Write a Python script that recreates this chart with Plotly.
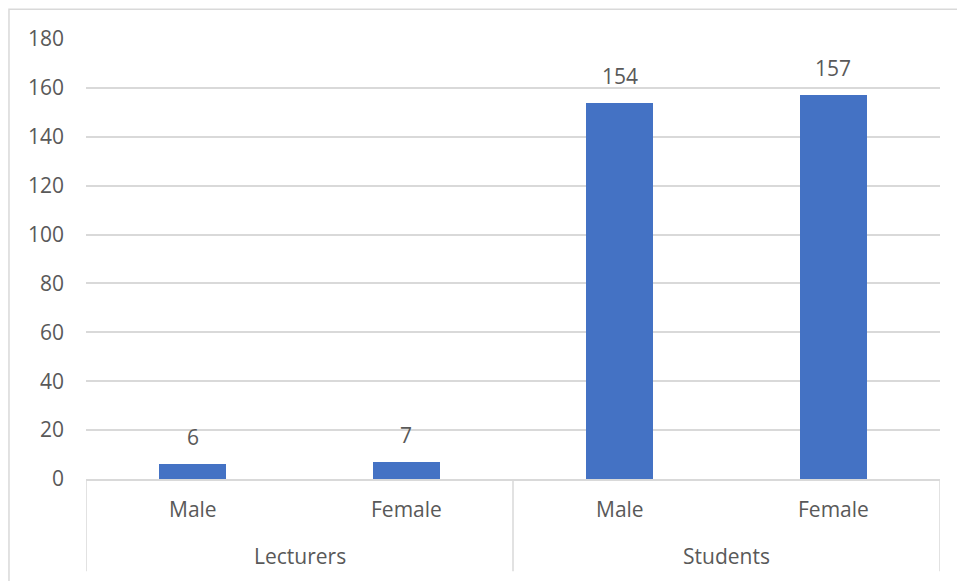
import plotly.graph_objects as go

groups = ["Lecturers", "Lecturers", "Students", "Students"]
genders = ["Male", "Female", "Male", "Female"]
values = [6, 7, 154, 157]
group_names = ["Lecturers", "Students"]
y_ticks = [0, 20, 40, 60, 80, 100, 120, 140, 160, 180]

BAR = "#4472C4"
TXT = "#595959"
GRID = "#D9D9D9"
FONT = "Open Sans"
FS = 21

xpos = [i + 0.5 for i in range(len(values))]

fig = go.Figure()
fig.add_trace(go.Bar(x=xpos, y=values, width=0.314, marker=dict(color=BAR, line=dict(width=0)),
                     hoverinfo="skip", showlegend=False))

annotations = []
# data labels
for x, v in zip(xpos, values):
    annotations.append(dict(x=x, y=v, xref="x", yref="y", text=str(v), showarrow=False,
                            yanchor="bottom", yshift=11, font=dict(family=FONT, size=FS, color=TXT)))
# inner category labels
for x, g in zip(xpos, genders):
    annotations.append(dict(x=x, y=0, xref="x", yref="paper", text=g, showarrow=False,
                            yanchor="middle", yshift=-30, font=dict(family=FONT, size=FS, color=TXT)))
# outer group labels
for gi, gname in enumerate(group_names):
    xs = [x for x, g in zip(xpos, groups) if g == gname]
    annotations.append(dict(x=sum(xs) / len(xs), y=0, xref="x", yref="paper", text=gname, showarrow=False,
                            yanchor="middle", yshift=-77, font=dict(family=FONT, size=FS, color=TXT)))

shapes = []
# dividers
for xd in [0, 2, 4]:
    shapes.append(dict(type="line", xref="x", yref="paper", x0=xd, x1=xd, y0=0, y1=-0.2097,
                       line=dict(color=GRID, width=1.5)))
# outer chart border
shapes.append(dict(type="rect", xref="paper", yref="paper", x0=-0.0902, x1=1.03, y0=1.0674, y1=-0.25,
                   line=dict(color=GRID, width=1.5), fillcolor="rgba(0,0,0,0)", layer="below"))

fig.update_layout(
    width=957, height=581,
    margin=dict(l=86, r=17, t=39, b=102),
    paper_bgcolor="white", plot_bgcolor="white",
    font=dict(family=FONT, size=FS, color=TXT),
    xaxis=dict(range=[0, 4], showticklabels=False, showgrid=False, zeroline=False,
               showline=True, linecolor=GRID, linewidth=1.5, ticks=""),
    yaxis=dict(range=[0, 180], tickvals=y_ticks, showgrid=True, gridcolor=GRID, gridwidth=1.5,
               zeroline=False, showline=False, ticks="", ticklabelstandoff=21,
               tickfont=dict(family=FONT, size=FS, color=TXT)),
    annotations=annotations,
    shapes=shapes,
    bargap=0,
)

fig.write_html("out.html")
